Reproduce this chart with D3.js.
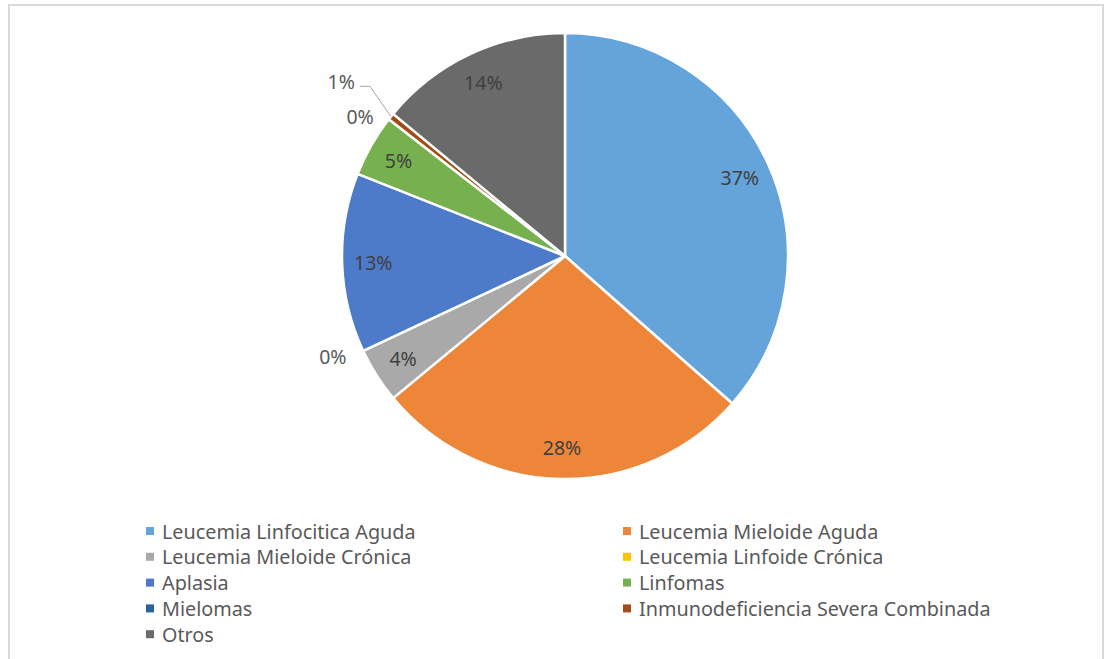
<!DOCTYPE html>
<html>
<head>
<meta charset="utf-8">
<script src="https://cdn.jsdelivr.net/npm/d3@7"></script>
<style>
  html, body { margin: 0; padding: 0; background: #fff; }
  svg { display: block; }
  text { font-family: "Noto Sans", "Open Sans", sans-serif; }
</style>
</head>
<body>
<svg id="chart" width="1109" height="659"></svg>
<script>
// Patients by diagnosis (counts)
const categories = [
  "Leucemia Linfocitica Aguda",
  "Leucemia Mieloide Aguda",
  "Leucemia Mieloide Crónica",
  "Leucemia Linfoide Crónica",
  "Aplasia",
  "Linfomas",
  "Mielomas",
  "Inmunodeficiencia Severa Combinada",
  "Otros"
];
const counts = [73, 55, 8, 0, 26, 9, 0, 1, 28];
const colors = ["#65a3db", "#ee863a", "#a9a9a9", "#ffc000", "#4d7bca", "#76b04f", "#2a6398", "#a34d16", "#6a6a6a"];

const W = 1109, H = 659;
const cx = 565, cy = 256, R = 223;
const svg = d3.select("#chart");

// chart-area frame
svg.append("rect")
  .attr("x", 9).attr("y", 5)
  .attr("width", 1094).attr("height", 700)
  .attr("fill", "#fff")
  .attr("stroke", "#d9d9d9").attr("stroke-width", 2);

const total = d3.sum(counts);
const data = categories.map((c, i) => ({ name: c, value: counts[i], color: colors[i] }));

const pie = d3.pie().value(d => d.value).sort(null).startAngle(0).endAngle(2 * Math.PI);
const arcs = pie(data);
const arc = d3.arc().innerRadius(0).outerRadius(R);

const g = svg.append("g").attr("transform", `translate(${cx},${cy})`);

g.selectAll("path.slice")
  .data(arcs.filter(a => a.value > 0))
  .join("path")
  .attr("class", "slice")
  .attr("d", arc)
  .attr("fill", d => d.data.color)
  .attr("stroke", "#fff")
  .attr("stroke-width", 2.5)
  .attr("stroke-linejoin", "round");

const pct = v => Math.round(v / total * 100) + "%";
const pt = (angle, r) => [Math.sin(angle) * r, -Math.cos(angle) * r];
const labelSize = 19.5;

// labels inside larger slices
const inside = arcs.filter(a => a.value / total >= 0.02);
g.selectAll("text.in")
  .data(inside)
  .join("text")
  .attr("class", "in")
  .attr("x", d => pt((d.startAngle + d.endAngle) / 2, R * 0.86)[0])
  .attr("y", d => pt((d.startAngle + d.endAngle) / 2, R * 0.86)[1])
  .attr("text-anchor", "middle")
  .attr("dominant-baseline", "central")
  .attr("font-size", labelSize)
  .attr("fill", "#404040")
  .text(d => pct(d.value));

// labels outside tiny slices
const outside = arcs.filter(a => a.value / total < 0.02);
outside.forEach(d => {
  const mid = (d.startAngle + d.endAngle) / 2;
  if (d.value > 0) {
    // pushed out with a leader line
    const edge = pt(mid, R);
    const lab = pt(mid, R + 50);
    g.append("polyline")
      .attr("points", [[lab[0] + 8, lab[1] + 1], [lab[0] + 18, lab[1] + 1], edge].map(p => p.join(",")).join(" "))
      .attr("fill", "none")
      .attr("stroke", "#a6a6a6")
      .attr("stroke-width", 1);
    g.append("text")
      .attr("x", lab[0] + 3).attr("y", lab[1] - 4)
      .attr("text-anchor", "end")
      .attr("dominant-baseline", "central")
      .attr("font-size", labelSize)
      .attr("fill", "#595959")
      .text(pct(d.value));
  } else {
    const p = pt(mid, R + 14);
    g.append("text")
      .attr("x", p[0] - 4).attr("y", p[1] + (p[1] < 0 ? 6 : 0))
      .attr("text-anchor", "end")
      .attr("dominant-baseline", "central")
      .attr("font-size", labelSize)
      .attr("fill", "#595959")
      .text(pct(d.value));
  }
});

// legend, two columns
const legX = [146, 623], legY0 = 531, legDY = 25.8;
const leg = svg.append("g");
data.forEach((d, i) => {
  const col = i % 2, row = Math.floor(i / 2);
  const x = legX[col], y = legY0 + row * legDY;
  leg.append("rect")
    .attr("x", x).attr("y", y - 4)
    .attr("width", 8).attr("height", 8)
    .attr("fill", d.color);
  leg.append("text")
    .attr("x", x + 16).attr("y", y)
    .attr("dominant-baseline", "central")
    .attr("font-size", 19.8)
    .attr("fill", "#595959")
    .text(d.name);
});
</script>
</body>
</html>
